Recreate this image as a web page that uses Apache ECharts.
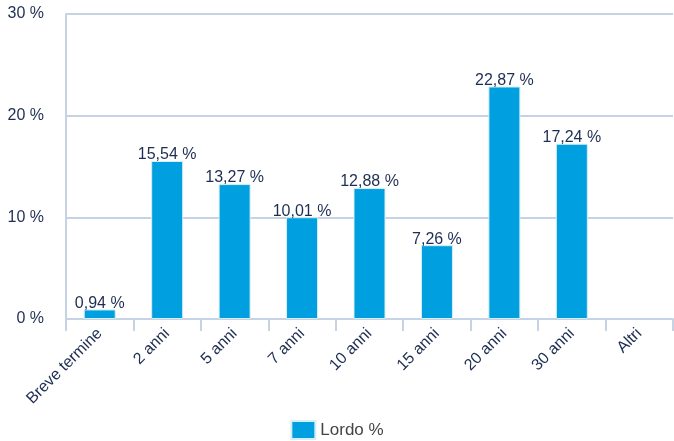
<!DOCTYPE html>
<html>
<head>
<meta charset="utf-8">
<script src="https://cdn.jsdelivr.net/npm/echarts@6/dist/echarts.min.js"></script>
<style>html,body{margin:0;padding:0;background:#fff}#c{width:674px;height:441px}</style>
</head>
<body>
<div id="c"></div>
<script>
const categories = ['Breve termine', '2 anni', '5 anni', '7 anni', '10 anni', '15 anni', '20 anni', '30 anni', 'Altri'];
const lordo = [0.94, 15.54, 13.27, 10.01, 12.88, 7.26, 22.87, 17.24, null];
const seriesName = 'Lordo %';
const yTicks = [0, 10, 20, 30];

const chart = echarts.init(document.getElementById('c'), null, {renderer: 'canvas'});
const font = '"Liberation Sans", Arial, Helvetica, sans-serif';
chart.setOption({
  animation: false,
  textStyle: {fontFamily: font},
  grid: {left: 66, right: 1, top: 14, bottom: 122},
  legend: {
    bottom: -4, left: 'center',
    icon: 'rect',
    itemWidth: 24, itemHeight: 18, itemGap: 8,
    textStyle: {fontSize: 17, color: '#444', fontFamily: font},
    data: [seriesName]
  },
  xAxis: {
    type: 'category',
    data: categories,
    axisLine: {lineStyle: {color: '#c5d3e4', width: 2}},
    axisTick: {show: true, length: 12, lineStyle: {color: '#c5d3e4', width: 2}},
    axisLabel: {rotate: 45, fontSize: 16, color: '#1e2d52', margin: 12, fontFamily: font, interval: 0}
  },
  yAxis: {
    type: 'value',
    min: yTicks[0], max: yTicks[yTicks.length - 1], interval: 10,
    axisLine: {show: true, lineStyle: {color: '#c5d3e4', width: 2}},
    axisTick: {show: false},
    splitLine: {lineStyle: {color: '#c5d3e4', width: 2}},
    axisLabel: {formatter: '{value} %', fontSize: 16, color: '#1e2d52', margin: 22, fontFamily: font}
  },
  series: [{
    name: seriesName,
    type: 'bar',
    data: lordo,
    barWidth: 32,
    itemStyle: {color: '#009fe0', borderColor: '#d6eef9', borderWidth: 1},
    label: {
      show: true, position: 'top', distance: -2,
      fontSize: 16, color: '#1e2d52', fontFamily: font,
      formatter: p => p.value == null ? '' : p.value.toFixed(2).replace('.', ',') + ' %'
    }
  }]
});
</script>
</body>
</html>
